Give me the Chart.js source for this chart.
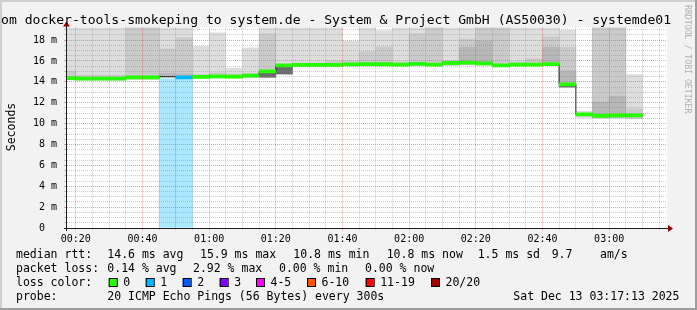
<!DOCTYPE html>
<html>
<head>
<meta charset="utf-8">
<script src="https://cdn.jsdelivr.net/npm/chart.js"></script>
<style>
  html, body { margin: 0; padding: 0; background: #f2f2f2; }
  #wrap { position: relative; width: 697px; height: 310px; }
</style>
</head>
<body>
<div id="wrap"><canvas id="chart"></canvas></div>
<script>
// 5-minute steps, start minute after midnight
const intervalStart = [15, 20, 25, 30, 35, 40, 45, 50, 55, 60, 65, 70, 75, 80, 85, 90, 95, 100,
  105, 110, 115, 120, 125, 130, 135, 140, 145, 150, 155, 160, 165, 170, 175, 180, 185];
const intervalEnd = 190;

// median rtt in ms
const median = [14.36, 14.3, 14.3, 14.3, 14.42, 14.42, 14.5, 14.42, 14.47, 14.52, 14.5, 14.6,
  15.0, 15.58, 15.63, 15.63, 15.63, 15.66, 15.7, 15.68, 15.65, 15.72, 15.65, 15.8, 15.83,
  15.77, 15.58, 15.65, 15.65, 15.7, 13.75, 10.88, 10.75, 10.78, 10.78];

// lost pings per step (null = no coloured median)
const lossCount = [0, 0, 0, 0, 0, 0, null, 1, 0, 0, 0, 0, 0, 0, 0, 0, 0, 0,
  0, 0, 0, 0, 0, 0, 0, 0, 0, 0, 0, 0, 0, 0, 0, 0, 0];
const lossBand = [null, null, null, null, null, null, 14.3, 14.3, null, null, null, null,
  null, null, null, null, null, null, null, null, null, null, null, null, null, null, null,
  null, null, null, null, null, null, null, null];

// smoke: ping spread per step, [low, high] in ms
const smokeOuter = [[14.15, 19.2], [14.15, 19.2], [14.15, 19.2], [14.15, 19.2], [14.2, 19.2],
  [14.2, 19.2], [14.4, 19.2], [14.4, 19.2], [14.3, 17.4], [14.35, 18.7], [14.35, 15.3],
  [14.4, 17.25], [14.4, 19.2], [14.7, 19.2], [15.45, 19.2], [15.45, 19.2], [15.45, 19.2],
  [15.5, 17.9], [15.5, 19.2], [15.5, 18.9], [15.5, 19.2], [15.5, 19.2], [15.5, 19.2],
  [15.55, 19.2], [15.6, 19.2], [15.6, 19.2], [15.45, 19.2], [15.5, 19.2], [15.5, 19.2],
  [15.55, 19.2], [13.45, 18.95], [10.55, 11.2], [10.5, 19.2], [10.55, 19.2], [10.45, 14.68]];
const smokeMid = [[14.2, 15.0], [14.2, 14.65], [14.2, 14.65], [14.2, 14.65], [14.3, 19.2],
  [14.3, 19.2], [14.45, 17.15], [14.45, 18.2], [14.4, 14.7], [14.4, 14.85], [14.4, 14.75],
  [14.45, 14.8], [14.45, 18.6], null, [15.5, 15.8], [15.5, 15.8], [15.5, 16.0],
  [15.55, 16.0], [15.55, 16.9], [15.55, 17.35], [15.55, 15.9], [15.55, 18.6], [15.55, 19.2],
  [15.6, 16.0], [15.65, 18.1], [15.6, 19.2], [15.5, 19.2], [15.55, 15.9], [15.55, 16.2],
  [15.6, 18.3], [13.5, 17.3], null, [10.55, 19.2], [10.55, 19.2], [10.5, 11.4]];
const smokeInner = [null, null, null, null, null, null, [14.5, 14.8], [14.5, 14.75], null, null,
  null, null, null, null, null, null, null, null, null, null, null, null, null, null,
  [15.7, 17.3], [15.65, 17.9], null, null, null, [15.6, 17.3], [13.5, 15.05], null,
  [10.6, 12.05], [10.6, 12.6], null];
const smokeCore = [null, null, null, null, null, null, null, null, null, null, null, null,
  [14.45, 14.85], [14.75, 15.45], null, null, null, null, null, null, null, null, null, null,
  null, null, null, null, null, null, [13.5, 13.62], null, null, null, null];

// axis ticks
const minorTickStep = 5;
const labelMinutes = [20, 40, 60, 80, 100, 120, 140, 160, 180];
const timeLabels = ['00:20', '00:40', '01:00', '01:20', '01:40', '02:00', '02:20', '02:40', '03:00'];
const yLabelValues = [0, 2, 4, 6, 8, 10, 12, 14, 16, 18];
const yLabels = ['0  ', '2 m', '4 m', '6 m', '8 m', '10 m', '12 m', '14 m', '16 m', '18 m'];

// loss legend
const lossThresholds = [0, 1, 2, 3, 5, 10, 19, 20];
const lossNames = ['0', '1', '2', '3', '4-5', '6-10', '11-19', '20/20'];
const lossColors = ['#26ff00', '#00b8ff', '#0059ff', '#7e00ff', '#ff00ff', '#ff5500', '#ff0000', '#a10000'];

const title = 'om docker-tools-smokeping to system.de - System & Project GmbH (AS50030) - systemde01';
const statLines = [
  [[16, 'median rtt:'], [107.3, '14.6 ms avg'], [200, '15.9 ms max'], [293.3, '10.8 ms min'],
    [386.7, '10.8 ms now'], [477.7, '1.5 ms sd'], [551.7, '9.7'], [600, 'am/s']],
  [[16, 'packet loss:'], [107.3, '0.14 % avg'], [193, '2.92 % max'], [279, '0.00 % min'],
    [365, '0.00 % now']],
  [[16, 'loss color:']],
  [[16, 'probe:'], [107.3, '20 ICMP Echo Pings (56 Bytes) every 300s'], [513.3, 'Sat Dec 13 03:17:13 2025']]
];
const lossSwatchX = [108.7, 145.7, 182.7, 219.7, 256, 307, 365.7, 431];

function lossColor(n) {
  if (n === null) return 'rgba(0,0,0,0)';
  for (let i = 0; i < lossThresholds.length; i++) {
    if (n <= lossThresholds[i]) return lossColors[i];
  }
  return lossColors[lossColors.length - 1];
}

function bars(ranges) {
  const out = [];
  ranges.forEach((r, i) => {
    if (r) out.push({ x: intervalStart[i] + 2.5, y: r });
  });
  return out;
}

const MONO = '"DejaVu Sans Mono", monospace';

const rrdDecor = {
  id: 'rrdDecor',
  beforeDraw(chart) {
    const { ctx, chartArea: a } = chart;
    ctx.save();
    ctx.fillStyle = '#f2f2f2';
    ctx.fillRect(0, 0, chart.width, chart.height);
    ctx.fillStyle = '#cfcfcf';
    ctx.fillRect(0, 0, chart.width, 2);
    ctx.fillRect(0, 0, 2, chart.height);
    ctx.fillStyle = '#9e9e9e';
    ctx.fillRect(chart.width - 2, 0, 2, chart.height);
    ctx.fillRect(0, chart.height - 2, chart.width, 2);
    ctx.fillStyle = '#ffffff';
    ctx.fillRect(a.left, a.top, a.right - a.left, a.bottom - a.top);
    ctx.restore();
  },
  afterDraw(chart) {
    const { ctx, chartArea: a } = chart;
    ctx.save();
    // axes
    ctx.strokeStyle = '#1f1f1f';
    ctx.lineWidth = 1;
    ctx.beginPath();
    ctx.moveTo(a.left - 3, Math.round(a.bottom) + 0.5);
    ctx.lineTo(a.right + 2, Math.round(a.bottom) + 0.5);
    ctx.moveTo(Math.round(a.left) - 0.5, a.bottom + 3);
    ctx.lineTo(Math.round(a.left) - 0.5, a.top - 2);
    ctx.stroke();
    ctx.fillStyle = '#900000';
    const yb = Math.round(a.bottom) + 0.5;
    ctx.beginPath();
    ctx.moveTo(a.right + 1, yb - 3.5);
    ctx.lineTo(a.right + 6, yb);
    ctx.lineTo(a.right + 1, yb + 3.5);
    ctx.closePath();
    ctx.fill();
    const xl = Math.round(a.left) - 0.5;
    ctx.beginPath();
    ctx.moveTo(xl - 3.5, a.top - 1);
    ctx.lineTo(xl, a.top - 6);
    ctx.lineTo(xl + 3.5, a.top - 1);
    ctx.closePath();
    ctx.fill();

    ctx.fillStyle = '#000';
    ctx.textBaseline = 'alphabetic';
    ctx.textAlign = 'left';
    ctx.font = '13.1px ' + MONO;
    ctx.fillText(title, 1, 23.5);

    // unit label
    ctx.save();
    ctx.font = '11.5px ' + MONO;
    ctx.translate(15, 127);
    ctx.rotate(-Math.PI / 2);
    ctx.textAlign = 'center';
    ctx.fillText('Seconds', 0, 0);
    ctx.restore();

    // watermark
    ctx.save();
    ctx.font = '8.2px ' + MONO;
    ctx.fillStyle = '#b0b0b0';
    ctx.translate(685, 5);
    ctx.rotate(Math.PI / 2);
    ctx.fillText('RRDTOOL / TOBI OETIKER', 0, 0);
    ctx.restore();

    // legend
    ctx.font = '11.5px ' + MONO;
    const baselines = [258.3, 272.1, 285.9, 299.7];
    statLines.forEach((line, li) => {
      line.forEach(([x, t]) => ctx.fillText(t, x, baselines[li]));
    });
    lossNames.forEach((name, i) => {
      const x = lossSwatchX[i];
      ctx.fillStyle = lossColors[i];
      ctx.fillRect(x, 278.5, 8, 8);
      ctx.strokeStyle = '#000';
      ctx.strokeRect(x + 0.5, 278.5, 8, 8);
      ctx.fillStyle = '#000';
      ctx.fillText(name, x + 14.5, baselines[2]);
    });
    ctx.restore();
  }
};

const stepLine = intervalStart.map((t, i) => ({ x: t, y: median[i] }));
stepLine.push({ x: intervalEnd, y: median[median.length - 1] });

new Chart(document.getElementById('chart'), {
  type: 'bar',
  data: {
    datasets: [
      {
        label: 'median',
        data: bars(median.map(m => [m - 0.15, m + 0.15])),
        backgroundColor: intervalStart.map((t, i) => lossColor(lossCount[i])),
        order: 1
      },
      {
        type: 'line',
        label: 'median line',
        data: stepLine,
        stepped: true,
        borderColor: '#111111',
        borderWidth: 1,
        pointRadius: 0,
        order: 2
      },
      { label: 'core', data: bars(smokeCore), backgroundColor: '#6b6b6b', order: 3 },
      { label: 'inner', data: bars(smokeInner), backgroundColor: '#b7b7b7', order: 4 },
      { label: 'mid', data: bars(smokeMid), backgroundColor: '#cacaca', order: 5 },
      { label: 'outer', data: bars(smokeOuter), backgroundColor: '#dddddd', order: 6 },
      {
        label: 'loss',
        data: bars(lossBand.map(v => (v === null ? null : [0, v]))),
        backgroundColor: 'rgba(0,184,255,0.33)',
        order: 7
      }
    ]
  },
  options: {
    responsive: true,
    maintainAspectRatio: false,
    animation: false,
    devicePixelRatio: 1,
    layout: { padding: { top: 27.5, right: 30, left: 0, bottom: 0 } },
    datasets: {
      bar: {
        grouped: false,
        barPercentage: 1,
        categoryPercentage: 1,
        borderWidth: 0
      }
    },
    plugins: {
      legend: { display: false },
      tooltip: { enabled: false }
    },
    scales: {
      x: {
        type: 'linear',
        offset: false,
        min: 17.35,
        max: 197.35,
        afterBuildTicks(scale) {
          const ticks = [];
          for (let v = 20; v <= 195; v += minorTickStep) ticks.push({ value: v });
          scale.ticks = ticks;
        },
        afterFit(scale) { scale.height = 82; },
        ticks: {
          autoSkip: false,
          maxRotation: 0,
          padding: 3,
          color: '#000',
          font: { family: 'DejaVu Sans Mono', size: 10 },
          callback(v) {
            const i = labelMinutes.indexOf(v);
            return i >= 0 ? timeLabels[i] : '';
          }
        },
        grid: {
          z: 1,
          offset: false,
          tickLength: 2,
          color: c => (c.tick && c.tick.value % 20 === 0 ? 'rgba(222,79,79,0.55)' : 'rgba(143,143,143,0.45)')
        },
        border: { display: false, dash: [1, 1] }
      },
      y: {
        min: 0,
        max: 19.2,
        afterBuildTicks(scale) {
          const ticks = [];
          for (let v = 0; v <= 19; v += 0.5) ticks.push({ value: v });
          scale.ticks = ticks;
        },
        afterFit(scale) { scale.width = 67; },
        ticks: {
          autoSkip: false,
          padding: 7,
          color: '#000',
          font: { family: 'DejaVu Sans Mono', size: 10 },
          callback(v) {
            const i = yLabelValues.indexOf(v);
            return i >= 0 ? yLabels[i] : '';
          }
        },
        grid: {
          z: 1,
          tickLength: 3,
          color: c => (c.tick && c.tick.value % 2 === 0 ? 'rgba(222,79,79,0.55)' : 'rgba(143,143,143,0.45)')
        },
        border: { display: false, dash: [1, 1] }
      }
    }
  },
  plugins: [rrdDecor]
});
</script>
</body>
</html>
